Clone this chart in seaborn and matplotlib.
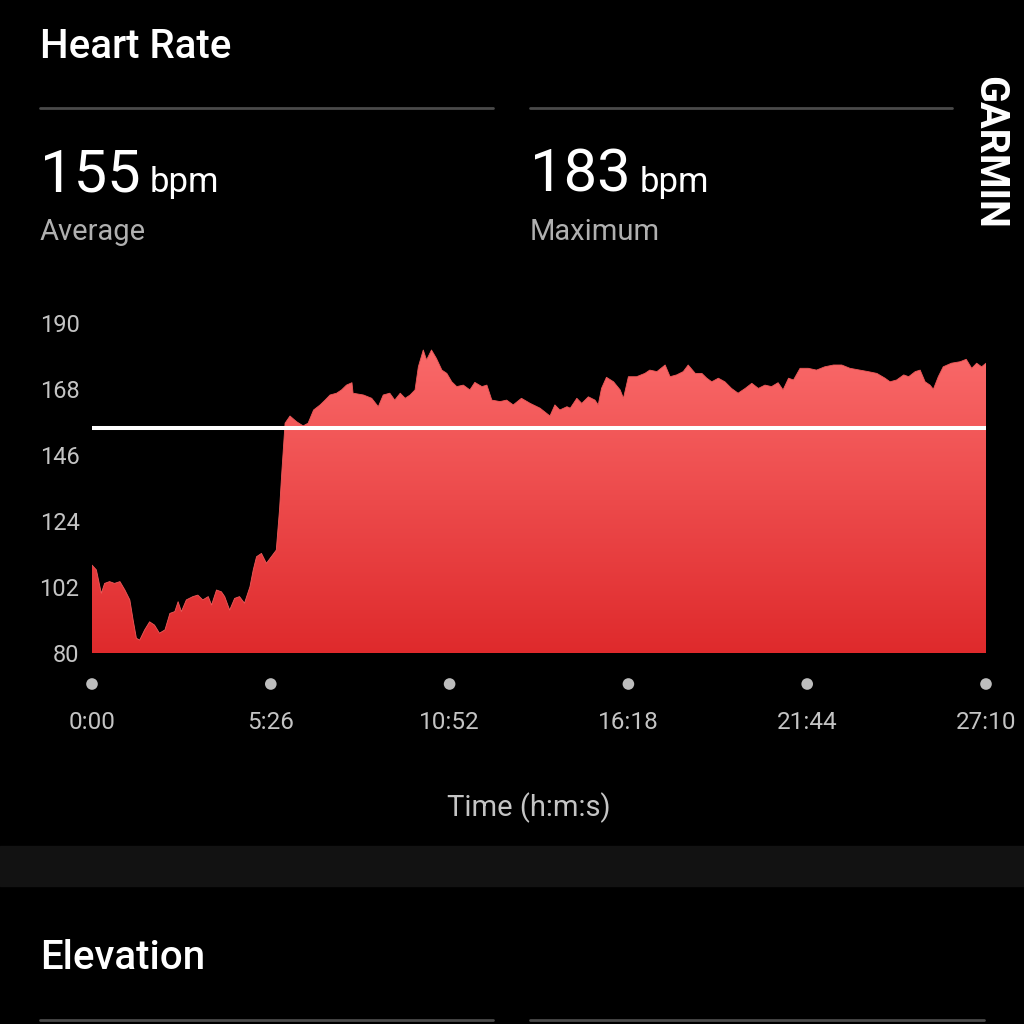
import numpy as np
import pandas as pd
import matplotlib
matplotlib.use("Agg")
import matplotlib.pyplot as plt
import seaborn as sns
from matplotlib.colors import LinearSegmentedColormap
from matplotlib.patches import PathPatch, Rectangle
from matplotlib.lines import Line2D
import matplotlib.transforms as mtransforms

# ---- data ----
time_s = [0, 8, 17, 23, 32, 41, 51, 60, 69, 75, 81, 87, 96, 105, 114, 123, 133, 142, 151,
          157, 163, 172, 184, 193, 202, 212, 218, 227, 236, 242, 251, 260, 269, 278, 288,
          294, 300, 309, 318, 327, 336, 342, 346, 352, 361, 373, 385, 394, 404, 416, 425,
          434, 446, 455, 464, 474, 476, 495, 510, 522, 531, 543, 552, 562, 571, 580, 589,
          595, 604, 610, 619, 628, 638, 647, 656, 665, 677, 689, 698, 711, 720, 729, 744,
          756, 768, 783, 799, 817, 835, 844, 853, 866, 872, 884, 893, 905, 917, 923, 929,
          938, 951, 963, 969, 978, 993, 1008, 1017, 1030, 1045, 1054, 1066, 1078, 1087,
          1100, 1112, 1121, 1130, 1142, 1154, 1166, 1178, 1191, 1203, 1215, 1227, 1239,
          1251, 1260, 1270, 1279, 1291, 1306, 1321, 1336, 1352, 1367, 1382, 1400, 1415,
          1431, 1446, 1455, 1467, 1480, 1489, 1501, 1510, 1519, 1528, 1534, 1543, 1552,
          1567, 1583, 1594, 1604, 1613, 1622, 1630]
bpm = [109.3, 107.7, 99.9, 103.2, 103.8, 103.2, 103.8, 101.0, 97.7, 91.0, 84.9, 84.3,
       87.7, 90.4, 89.3, 86.6, 87.7, 93.2, 93.8, 97.1, 93.8, 97.7, 98.8, 99.3, 97.7, 98.8,
       96.0, 101.0, 100.4, 98.8, 94.3, 98.2, 98.8, 96.6, 102.1, 107.7, 112.1, 113.2, 109.9,
       112.1, 114.3, 128.0, 140.0, 156.6, 159.0, 157.1, 155.7, 156.6, 161.0, 162.7, 164.3,
       166.0, 166.6, 167.7, 169.3, 170.1, 166.6, 166.0, 164.9, 162.1, 166.0, 166.6, 164.3,
       166.6, 164.9, 166.0, 167.7, 175.4, 181.0, 177.7, 181.0, 178.2, 174.3, 173.2, 170.4,
       168.8, 169.3, 167.7, 170.2, 168.8, 169.3, 164.3, 163.8, 164.3, 162.7, 164.9, 163.2,
       161.6, 159.0, 162.7, 161.0, 162.1, 161.6, 164.9, 163.2, 165.4, 164.3, 162.7, 168.2,
       171.9, 170.4, 167.7, 164.9, 172.1, 172.1, 173.2, 174.3, 173.8, 176.0, 172.1, 172.7,
       173.8, 176.0, 173.2, 173.2, 171.6, 170.4, 171.6, 170.4, 168.2, 166.6, 168.2, 169.9,
       168.2, 169.3, 168.8, 170.1, 167.7, 171.6, 171.0, 174.9, 174.9, 174.3, 175.4, 176.0,
       176.0, 174.9, 174.3, 173.8, 173.2, 171.6, 170.4, 171.0, 172.7, 172.1, 173.8, 174.3,
       170.4, 169.3, 167.9, 172.1, 175.4, 176.6, 177.1, 177.9, 174.9, 176.6, 175.4, 176.6]
avg_bpm = 155
max_bpm = 183
y_ticks = [80, 102, 124, 146, 168, 190]
x_ticks = [0, 326, 652, 978, 1304, 1630]
x_labels = ["0:00", "5:26", "10:52", "16:18", "21:44", "27:10"]

sns.set_theme(style="dark")
plt.rcParams['font.family'] = ['Roboto', 'DejaVu Sans']

W = 1024.0
fig = plt.figure(figsize=(10.24, 10.24), dpi=100, facecolor='black')
ax = fig.add_axes([92 / W, 1 - 653 / W, 894 / W, 330 / W])
ax.set_facecolor('black')

df = pd.DataFrame({'t': time_s, 'hr': bpm})
sns.lineplot(data=df, x='t', y='hr', ax=ax, color='#ef5a5a', lw=0.6)

fill = ax.fill_between(df['t'], y_ticks[0], df['hr'], facecolor='none', edgecolor='none')
path = fill.get_paths()[0]
patch = PathPatch(path, transform=ax.transData, facecolor='none', edgecolor='none')
ax.add_patch(patch)
cmap = LinearSegmentedColormap.from_list('hr', ['#df2a2c', '#fa6a6a'])
grad = np.linspace(0, 1, 256).reshape(-1, 1)
im = ax.imshow(grad, extent=[time_s[0], time_s[-1], y_ticks[0], 182], origin='lower',
               aspect='auto', cmap=cmap, zorder=1)
im.set_clip_path(patch)

ax.axhline(avg_bpm, color='white', lw=2.9, zorder=3)

ax.set_xlim(time_s[0], time_s[-1])
ax.set_ylim(y_ticks[0], y_ticks[-1])
ax.set_yticks(y_ticks)
ax.set_yticklabels([str(v) for v in y_ticks])
ax.set_xticks(x_ticks)
ax.set_xticklabels(x_labels)
ax.tick_params(axis='y', length=0, pad=9, labelsize=17, labelcolor='#c4c4c4')
ax.tick_params(axis='x', length=0, pad=42, labelsize=17.5, labelcolor='#c4c4c4')
ax.set_xlabel('')
ax.set_ylabel('')
ax.grid(False)
for s in ax.spines.values():
    s.set_visible(False)

# tick dots
trans = mtransforms.blended_transform_factory(ax.transData, ax.transAxes)
ax.scatter(x_ticks, [-31 / 330] * len(x_ticks), transform=trans, s=70, color='#bdbdbd',
           clip_on=False, zorder=4, edgecolor='none')

fig.text(529 / W, 1 - 808 / W, 'Time (h:m:s)', ha='center', va='center', fontsize=21,
         color='#c4c4c4')

# header
fig.text(40 / W, 1 - 47 / W, 'Heart Rate', ha='left', va='center', fontsize=29,
         color='white', weight='medium')
for x0, x1 in [(40, 493), (530, 952)]:
    fig.add_artist(Line2D([x0 / W, x1 / W], [1 - 108 / W] * 2, color='#4a4a4a', lw=2))
fig.text(40 / W, 1 - 192 / W, f'{avg_bpm}', ha='left', va='baseline', fontsize=43,
         color='white')
fig.text(150 / W, 1 - 192 / W, 'bpm', ha='left', va='baseline', fontsize=25, color='white')
fig.text(40 / W, 1 - 232 / W, 'Average', ha='left', va='center', fontsize=21,
         color='#b0b0b0')
fig.text(530 / W, 1 - 192 / W, f'{max_bpm}', ha='left', va='baseline', fontsize=43,
         color='white')
fig.text(640 / W, 1 - 192 / W, 'bpm', ha='left', va='baseline', fontsize=25, color='white')
fig.text(530 / W, 1 - 232 / W, 'Maximum', ha='left', va='center', fontsize=21,
         color='#b0b0b0')
fig.text(989 / W, 1 - 152 / W, 'GARMIN', ha='center', va='center', fontsize=28.5,
         color='white', weight='bold', rotation=270)

# section separator and next section
fig.add_artist(Rectangle((0, 1 - 886 / W), 1, 40 / W, color='#121212',
                         transform=fig.transFigure))
fig.text(40 / W, 1 - 958 / W, 'Elevation', ha='left', va='center', fontsize=29,
         color='white', weight='medium')
for x0, x1 in [(40, 493), (530, 984)]:
    fig.add_artist(Line2D([x0 / W, x1 / W], [1 - 1020 / W] * 2, color='#4a4a4a', lw=2))

fig.savefig('out.png', dpi=100, facecolor='black')
